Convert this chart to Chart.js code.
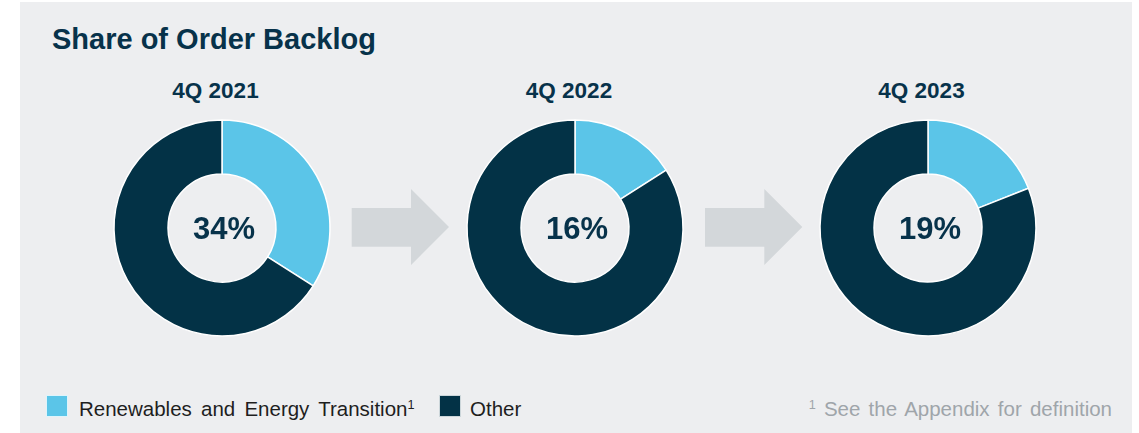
<!DOCTYPE html>
<html>
<head>
<meta charset="utf-8">
<script src="https://cdn.jsdelivr.net/npm/chart.js@4.4.1/dist/chart.umd.min.js"></script>
<style>
  html, body { margin:0; padding:0; background:#ffffff; }
  #page { position:relative; width:1139px; height:433px; overflow:hidden; font-family:"Liberation Sans", Arial, sans-serif; }
  #panel { position:absolute; left:20px; top:2px; width:1112px; height:431px; background:#edeef0; }
  .txt { position:absolute; line-height:1; white-space:nowrap; }
  #title { left:52px; top:24.5px; font-size:29px; font-weight:bold; color:#07324a; }
  .period { width:140px; text-align:center; font-size:22.5px; font-weight:bold; color:#07324a; top:79.5px; }
  .donut { position:absolute; width:240px; height:240px; }
  .lgbox { position:absolute; width:20px; height:20px; border:1px solid rgba(255,255,255,0.8); top:395px; }
  .lgtext { font-size:20.5px; color:#1e1e1e; top:398.6px; word-spacing:3.5px; }
  sup { font-size:0.62em; vertical-align:0; position:relative; top:-0.55em; }
  #foot { font-size:20.5px; color:#9fa5aa; top:398.6px; right:27px; word-spacing:2.5px; }
  svg { position:absolute; left:0; top:0; }
</style>
</head>
<body>
<div id="page">
  <div id="panel"></div>
  <svg width="1139" height="433" id="arrows"></svg>
  <div id="title" class="txt">Share of Order Backlog</div>
  <div id="periods"></div>
  <div id="donuts"></div>
  <div id="legend"></div>
  <div id="foot" class="txt"><sup>1</sup> See the Appendix for definition</div>
</div>
<script>
// ---- Data ----
const periods = ['4Q 2021', '4Q 2022', '4Q 2023'];
const renewablesShare = [34, 16, 19];
const otherShare = [66, 84, 81];
const seriesLabels = ['Renewables and Energy Transition', 'Other'];

// ---- Style / layout ----
const colors = ['#5bc5e8', '#033246'];
const centersX = [222, 575, 927.5];
const centerY = 227.5;
const labelCentersX = [215.5, 569, 921.5];

const page = document.getElementById('page');

// arrows (decoration between donuts)
const svg = document.getElementById('arrows');
[351.7, 705].forEach(x0 => {
  const p = document.createElementNS('http://www.w3.org/2000/svg', 'polygon');
  const pts = [
    [x0, 208], [x0 + 59.3, 208], [x0 + 59.3, 189], [x0 + 97.3, 227],
    [x0 + 59.3, 265], [x0 + 59.3, 246.7], [x0, 246.7]
  ].map(a => a.join(',')).join(' ');
  p.setAttribute('points', pts);
  p.setAttribute('fill', '#d3d7da');
  svg.appendChild(p);
});

// period labels
periods.forEach((p, i) => {
  const d = document.createElement('div');
  d.className = 'txt period';
  d.style.left = (labelCentersX[i] - 70) + 'px';
  d.textContent = p;
  page.appendChild(d);
});

// legend
const lg = [
  { box: 46, text: 79, html: seriesLabels[0] + '<sup>1</sup>' },
  { box: 439, text: 470, html: seriesLabels[1] }
];
lg.forEach((l, i) => {
  const b = document.createElement('div');
  b.className = 'lgbox';
  b.style.left = l.box + 'px';
  b.style.background = colors[i];
  page.appendChild(b);
  const t = document.createElement('div');
  t.className = 'txt lgtext';
  t.style.left = l.text + 'px';
  t.innerHTML = l.html;
  page.appendChild(t);
});

// center label plugin
const centerText = {
  id: 'centerText',
  afterDraw(chart) {
    const ds = chart.data.datasets[0].data;
    const total = ds.reduce((a, b) => a + b, 0);
    const pct = Math.round(ds[0] / total * 100) + '%';
    const meta = chart.getDatasetMeta(0).data[0];
    const ctx = chart.ctx;
    ctx.save();
    ctx.font = 'bold 31px "Liberation Sans", Arial, sans-serif';
    ctx.fillStyle = '#07324a';
    ctx.textAlign = 'center';
    ctx.textBaseline = 'alphabetic';
    ctx.fillText(pct, meta.x + 2, meta.y + 11.3);
    ctx.restore();
  }
};

periods.forEach((p, i) => {
  const c = document.createElement('canvas');
  c.className = 'donut';
  c.width = 240; c.height = 240;
  c.style.left = (centersX[i] - 120) + 'px';
  c.style.top = (centerY - 120) + 'px';
  page.appendChild(c);
  new Chart(c, {
    type: 'doughnut',
    data: {
      labels: seriesLabels,
      datasets: [{
        data: [renewablesShare[i], otherShare[i]],
        backgroundColor: colors,
        borderColor: '#ffffff',
        borderWidth: 1.5
      }]
    },
    options: {
      responsive: false,
      animation: false,
      radius: 108,
      cutout: '50%',
      layout: { padding: 0 },
      plugins: { legend: { display: false }, title: { display: false }, tooltip: { enabled: false } }
    },
    plugins: [centerText]
  });
});
</script>
</body>
</html>
